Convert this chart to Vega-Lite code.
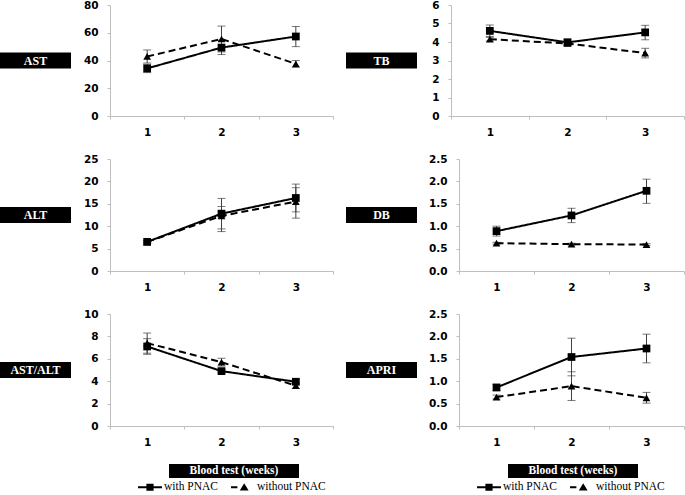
{
  "$schema": "https://vega.github.io/schema/vega-lite/v6.json",
  "padding": {"left": 0, "top": 0, "right": 0, "bottom": 0},
  "background": "white",
  "config": {
    "view": {"stroke": null},
    "axis": {"grid": false, "domainColor": "#bfbfbf", "tickColor": "#bfbfbf", "labelFont": "DejaVu Sans", "labelFontWeight": "bold", "labelFontSize": 10.5, "labelColor": "black", "tickSize": 3},
    "axisX": {"labelAngle": 0, "tickBand": "extent", "labelPadding": 8},
    "axisY": {"labelPadding": 9},
    "legend": {"layout": {"anchor": "middle", "bottom": {"anchor": "middle"}}}
  },
  "datasets": {
    "d": [
      {"panel": "AST", "series": "with PNAC", "week": 1, "value": 34.3, "lo": 31.3, "hi": 37.3},
      {"panel": "AST", "series": "with PNAC", "week": 2, "value": 49.3, "lo": 44.3, "hi": 54.3},
      {"panel": "AST", "series": "with PNAC", "week": 3, "value": 57.3, "lo": 50.0, "hi": 64.5},
      {"panel": "AST", "series": "without PNAC", "week": 1, "value": 42.9, "lo": 38.2, "hi": 47.6},
      {"panel": "AST", "series": "without PNAC", "week": 2, "value": 55.5, "lo": 46.2, "hi": 64.8},
      {"panel": "AST", "series": "without PNAC", "week": 3, "value": 37.6, "lo": 35.2, "hi": 40.0},
      {"panel": "TB", "series": "with PNAC", "week": 1, "value": 4.6, "lo": 4.3, "hi": 4.92},
      {"panel": "TB", "series": "with PNAC", "week": 2, "value": 3.98, "lo": 3.8, "hi": 4.16},
      {"panel": "TB", "series": "with PNAC", "week": 3, "value": 4.52, "lo": 4.12, "hi": 4.9},
      {"panel": "TB", "series": "without PNAC", "week": 1, "value": 4.15, "lo": 4.05, "hi": 4.25},
      {"panel": "TB", "series": "without PNAC", "week": 2, "value": 3.92, "lo": 3.8, "hi": 4.04},
      {"panel": "TB", "series": "without PNAC", "week": 3, "value": 3.4, "lo": 3.14, "hi": 3.66},
      {"panel": "ALT", "series": "with PNAC", "week": 1, "value": 6.5, "lo": 6.2, "hi": 6.8},
      {"panel": "ALT", "series": "with PNAC", "week": 2, "value": 12.8, "lo": 9.4, "hi": 16.2},
      {"panel": "ALT", "series": "with PNAC", "week": 3, "value": 16.3, "lo": 13.2, "hi": 19.4},
      {"panel": "ALT", "series": "without PNAC", "week": 1, "value": 6.5, "lo": 6.3, "hi": 6.7},
      {"panel": "ALT", "series": "without PNAC", "week": 2, "value": 12.3, "lo": 8.8, "hi": 14.4},
      {"panel": "ALT", "series": "without PNAC", "week": 3, "value": 15.5, "lo": 11.8, "hi": 18.6},
      {"panel": "DB", "series": "with PNAC", "week": 1, "value": 0.89, "lo": 0.78, "hi": 1.0},
      {"panel": "DB", "series": "with PNAC", "week": 2, "value": 1.24, "lo": 1.08, "hi": 1.4},
      {"panel": "DB", "series": "with PNAC", "week": 3, "value": 1.79, "lo": 1.51, "hi": 2.05},
      {"panel": "DB", "series": "without PNAC", "week": 1, "value": 0.62, "lo": 0.6, "hi": 0.64},
      {"panel": "DB", "series": "without PNAC", "week": 2, "value": 0.6, "lo": 0.58, "hi": 0.62},
      {"panel": "DB", "series": "without PNAC", "week": 3, "value": 0.59, "lo": 0.57, "hi": 0.61},
      {"panel": "AST/ALT", "series": "with PNAC", "week": 1, "value": 7.1, "lo": 6.4, "hi": 7.8},
      {"panel": "AST/ALT", "series": "with PNAC", "week": 2, "value": 4.9, "lo": 4.75, "hi": 5.05},
      {"panel": "AST/ALT", "series": "with PNAC", "week": 3, "value": 3.95, "lo": 3.75, "hi": 4.15},
      {"panel": "AST/ALT", "series": "without PNAC", "week": 1, "value": 7.4, "lo": 6.5, "hi": 8.3},
      {"panel": "AST/ALT", "series": "without PNAC", "week": 2, "value": 5.7, "lo": 5.35, "hi": 6.05},
      {"panel": "AST/ALT", "series": "without PNAC", "week": 3, "value": 3.6, "lo": 3.35, "hi": 3.85},
      {"panel": "APRI", "series": "with PNAC", "week": 1, "value": 0.86, "lo": 0.79, "hi": 0.93},
      {"panel": "APRI", "series": "with PNAC", "week": 2, "value": 1.54, "lo": 1.12, "hi": 1.96},
      {"panel": "APRI", "series": "with PNAC", "week": 3, "value": 1.73, "lo": 1.41, "hi": 2.05},
      {"panel": "APRI", "series": "without PNAC", "week": 1, "value": 0.645, "lo": 0.6, "hi": 0.69},
      {"panel": "APRI", "series": "without PNAC", "week": 2, "value": 0.89, "lo": 0.57, "hi": 1.21},
      {"panel": "APRI", "series": "without PNAC", "week": 3, "value": 0.63, "lo": 0.51, "hi": 0.75}
    ],
    "lg": [{"series": "with PNAC"}, {"series": "without PNAC"}]
  },
  "spacing": 16,
  "resolve": {"scale": {"shape": "independent", "strokeDash": "independent"}, "legend": {"shape": "independent", "strokeDash": "independent"}},
  "vconcat": [
    {
      "hconcat": [
        {
          "hconcat": [
            {"width": 71, "height": 16, "view": {"fill": "black", "stroke": null}, "data": {"values": [{"label": "AST"}]}, "mark": {"type": "text", "color": "white", "font": "Liberation Serif", "fontWeight": "bold", "fontSize": 12}, "encoding": {"text": {"field": "label"}}},
            {
              "width": 223, "height": 111,
              "data": {"name": "d"},
              "transform": [{"filter": "datum.panel === 'AST'"}],
              "encoding": {"x": {"field": "week", "type": "ordinal", "title": null, "scale": {"paddingInner": 0, "paddingOuter": 0}}},
              "layer": [
                {"mark": {"type": "errorbar", "color": "#404040", "thickness": 1, "ticks": {"size": 8, "thickness": 1}}, "encoding": {"y": {"field": "lo", "type": "quantitative", "title": null, "scale": {"domain": [0, 80]}, "axis": {"values": [0, 20, 40, 60, 80], "format": "d"}}, "y2": {"field": "hi"}}},
                {"mark": {"type": "line", "color": "black", "strokeWidth": 2}, "encoding": {"y": {"field": "value", "type": "quantitative", "title": null, "scale": {"domain": [0, 80]}, "axis": {"values": [0, 20, 40, 60, 80], "format": "d"}}, "strokeDash": {"field": "series", "type": "nominal", "scale": {"domain": ["with PNAC", "without PNAC"], "range": [[1, 0], [7, 4]]}, "legend": null}}},
                {"mark": {"type": "point", "filled": true, "color": "black", "opacity": 1, "size": 60}, "encoding": {"y": {"field": "value", "type": "quantitative", "title": null, "scale": {"domain": [0, 80]}, "axis": {"values": [0, 20, 40, 60, 80], "format": "d"}}, "shape": {"field": "series", "type": "nominal", "scale": {"domain": ["with PNAC", "without PNAC"], "range": ["square", "triangle-up"]}, "legend": null}}}
              ]
            }
          ],
          "spacing": 39, "bounds": "flush", "center": true
        },
        {
          "hconcat": [
            {"width": 71, "height": 16, "view": {"fill": "black", "stroke": null}, "data": {"values": [{"label": "TB"}]}, "mark": {"type": "text", "color": "white", "font": "Liberation Serif", "fontWeight": "bold", "fontSize": 12}, "encoding": {"text": {"field": "label"}}},
            {
              "width": 233, "height": 111,
              "data": {"name": "d"},
              "transform": [{"filter": "datum.panel === 'TB'"}],
              "encoding": {"x": {"field": "week", "type": "ordinal", "title": null, "scale": {"paddingInner": 0, "paddingOuter": 0}}},
              "layer": [
                {"mark": {"type": "errorbar", "color": "#404040", "thickness": 1, "ticks": {"size": 8, "thickness": 1}}, "encoding": {"y": {"field": "lo", "type": "quantitative", "title": null, "scale": {"domain": [0, 6]}, "axis": {"values": [0, 1, 2, 3, 4, 5, 6], "format": "d"}}, "y2": {"field": "hi"}}},
                {"mark": {"type": "line", "color": "black", "strokeWidth": 2}, "encoding": {"y": {"field": "value", "type": "quantitative", "title": null, "scale": {"domain": [0, 6]}, "axis": {"values": [0, 1, 2, 3, 4, 5, 6], "format": "d"}}, "strokeDash": {"field": "series", "type": "nominal", "scale": {"domain": ["with PNAC", "without PNAC"], "range": [[1, 0], [7, 4]]}, "legend": null}}},
                {"mark": {"type": "point", "filled": true, "color": "black", "opacity": 1, "size": 60}, "encoding": {"y": {"field": "value", "type": "quantitative", "title": null, "scale": {"domain": [0, 6]}, "axis": {"values": [0, 1, 2, 3, 4, 5, 6], "format": "d"}}, "shape": {"field": "series", "type": "nominal", "scale": {"domain": ["with PNAC", "without PNAC"], "range": ["square", "triangle-up"]}, "legend": null}}}
              ]
            }
          ],
          "spacing": 34, "bounds": "flush", "center": true
        }
      ],
      "spacing": 12
    },
    {
      "hconcat": [
        {
          "hconcat": [
            {"width": 71, "height": 16, "view": {"fill": "black", "stroke": null}, "data": {"values": [{"label": "ALT"}]}, "mark": {"type": "text", "color": "white", "font": "Liberation Serif", "fontWeight": "bold", "fontSize": 12}, "encoding": {"text": {"field": "label"}}},
            {
              "width": 223, "height": 112,
              "data": {"name": "d"},
              "transform": [{"filter": "datum.panel === 'ALT'"}],
              "encoding": {"x": {"field": "week", "type": "ordinal", "title": null, "scale": {"paddingInner": 0, "paddingOuter": 0}}},
              "layer": [
                {"mark": {"type": "errorbar", "color": "#404040", "thickness": 1, "ticks": {"size": 8, "thickness": 1}}, "encoding": {"y": {"field": "lo", "type": "quantitative", "title": null, "scale": {"domain": [0, 25]}, "axis": {"values": [0, 5, 10, 15, 20, 25], "format": "d"}}, "y2": {"field": "hi"}}},
                {"mark": {"type": "line", "color": "black", "strokeWidth": 2}, "encoding": {"y": {"field": "value", "type": "quantitative", "title": null, "scale": {"domain": [0, 25]}, "axis": {"values": [0, 5, 10, 15, 20, 25], "format": "d"}}, "strokeDash": {"field": "series", "type": "nominal", "scale": {"domain": ["with PNAC", "without PNAC"], "range": [[1, 0], [7, 4]]}, "legend": null}}},
                {"mark": {"type": "point", "filled": true, "color": "black", "opacity": 1, "size": 60}, "encoding": {"y": {"field": "value", "type": "quantitative", "title": null, "scale": {"domain": [0, 25]}, "axis": {"values": [0, 5, 10, 15, 20, 25], "format": "d"}}, "shape": {"field": "series", "type": "nominal", "scale": {"domain": ["with PNAC", "without PNAC"], "range": ["square", "triangle-up"]}, "legend": null}}}
              ]
            }
          ],
          "spacing": 39, "bounds": "flush", "center": true
        },
        {
          "hconcat": [
            {"width": 71, "height": 16, "view": {"fill": "black", "stroke": null}, "data": {"values": [{"label": "DB"}]}, "mark": {"type": "text", "color": "white", "font": "Liberation Serif", "fontWeight": "bold", "fontSize": 12}, "encoding": {"text": {"field": "label"}}},
            {
              "width": 225, "height": 112,
              "data": {"name": "d"},
              "transform": [{"filter": "datum.panel === 'DB'"}],
              "encoding": {"x": {"field": "week", "type": "ordinal", "title": null, "scale": {"paddingInner": 0, "paddingOuter": 0}}},
              "layer": [
                {"mark": {"type": "errorbar", "color": "#404040", "thickness": 1, "ticks": {"size": 8, "thickness": 1}}, "encoding": {"y": {"field": "lo", "type": "quantitative", "title": null, "scale": {"domain": [0, 2.5]}, "axis": {"values": [0, 0.5, 1, 1.5, 2, 2.5], "format": ".1f"}}, "y2": {"field": "hi"}}},
                {"mark": {"type": "line", "color": "black", "strokeWidth": 2}, "encoding": {"y": {"field": "value", "type": "quantitative", "title": null, "scale": {"domain": [0, 2.5]}, "axis": {"values": [0, 0.5, 1, 1.5, 2, 2.5], "format": ".1f"}}, "strokeDash": {"field": "series", "type": "nominal", "scale": {"domain": ["with PNAC", "without PNAC"], "range": [[1, 0], [7, 4]]}, "legend": null}}},
                {"mark": {"type": "point", "filled": true, "color": "black", "opacity": 1, "size": 60}, "encoding": {"y": {"field": "value", "type": "quantitative", "title": null, "scale": {"domain": [0, 2.5]}, "axis": {"values": [0, 0.5, 1, 1.5, 2, 2.5], "format": ".1f"}}, "shape": {"field": "series", "type": "nominal", "scale": {"domain": ["with PNAC", "without PNAC"], "range": ["square", "triangle-up"]}, "legend": null}}}
              ]
            }
          ],
          "spacing": 42, "bounds": "flush", "center": true
        }
      ],
      "spacing": 12
    },
    {
      "hconcat": [
        {
          "hconcat": [
            {"width": 71, "height": 16, "view": {"fill": "black", "stroke": null}, "data": {"values": [{"label": "AST/ALT"}]}, "mark": {"type": "text", "color": "white", "font": "Liberation Serif", "fontWeight": "bold", "fontSize": 12}, "encoding": {"text": {"field": "label"}}},
            {
              "width": 223, "height": 112,
              "data": {"name": "d"},
              "transform": [{"filter": "datum.panel === 'AST/ALT'"}],
              "encoding": {"x": {"field": "week", "type": "ordinal", "title": null, "scale": {"paddingInner": 0, "paddingOuter": 0}}},
              "layer": [
                {"mark": {"type": "errorbar", "color": "#404040", "thickness": 1, "ticks": {"size": 8, "thickness": 1}}, "encoding": {"y": {"field": "lo", "type": "quantitative", "title": null, "scale": {"domain": [0, 10]}, "axis": {"values": [0, 2, 4, 6, 8, 10], "format": "d"}}, "y2": {"field": "hi"}}},
                {"mark": {"type": "line", "color": "black", "strokeWidth": 2}, "encoding": {"y": {"field": "value", "type": "quantitative", "title": null, "scale": {"domain": [0, 10]}, "axis": {"values": [0, 2, 4, 6, 8, 10], "format": "d"}}, "strokeDash": {"field": "series", "type": "nominal", "scale": {"domain": ["with PNAC", "without PNAC"], "range": [[1, 0], [7, 4]]}, "legend": null}}},
                {"mark": {"type": "point", "filled": true, "color": "black", "opacity": 1, "size": 60}, "encoding": {"y": {"field": "value", "type": "quantitative", "title": null, "scale": {"domain": [0, 10]}, "axis": {"values": [0, 2, 4, 6, 8, 10], "format": "d"}}, "shape": {"field": "series", "type": "nominal", "scale": {"domain": ["with PNAC", "without PNAC"], "range": ["square", "triangle-up"]}, "legend": null}}}
              ]
            }
          ],
          "spacing": 39, "bounds": "flush", "center": true
        },
        {
          "hconcat": [
            {"width": 71, "height": 16, "view": {"fill": "black", "stroke": null}, "data": {"values": [{"label": "APRI"}]}, "mark": {"type": "text", "color": "white", "font": "Liberation Serif", "fontWeight": "bold", "fontSize": 12}, "encoding": {"text": {"field": "label"}}},
            {
              "width": 225, "height": 112,
              "data": {"name": "d"},
              "transform": [{"filter": "datum.panel === 'APRI'"}],
              "encoding": {"x": {"field": "week", "type": "ordinal", "title": null, "scale": {"paddingInner": 0, "paddingOuter": 0}}},
              "layer": [
                {"mark": {"type": "errorbar", "color": "#404040", "thickness": 1, "ticks": {"size": 8, "thickness": 1}}, "encoding": {"y": {"field": "lo", "type": "quantitative", "title": null, "scale": {"domain": [0, 2.5]}, "axis": {"values": [0, 0.5, 1, 1.5, 2, 2.5], "format": ".1f"}}, "y2": {"field": "hi"}}},
                {"mark": {"type": "line", "color": "black", "strokeWidth": 2}, "encoding": {"y": {"field": "value", "type": "quantitative", "title": null, "scale": {"domain": [0, 2.5]}, "axis": {"values": [0, 0.5, 1, 1.5, 2, 2.5], "format": ".1f"}}, "strokeDash": {"field": "series", "type": "nominal", "scale": {"domain": ["with PNAC", "without PNAC"], "range": [[1, 0], [7, 4]]}, "legend": null}}},
                {"mark": {"type": "point", "filled": true, "color": "black", "opacity": 1, "size": 60}, "encoding": {"y": {"field": "value", "type": "quantitative", "title": null, "scale": {"domain": [0, 2.5]}, "axis": {"values": [0, 0.5, 1, 1.5, 2, 2.5], "format": ".1f"}}, "shape": {"field": "series", "type": "nominal", "scale": {"domain": ["with PNAC", "without PNAC"], "range": ["square", "triangle-up"]}, "legend": null}}}
              ]
            }
          ],
          "spacing": 42, "bounds": "flush", "center": true
        }
      ],
      "spacing": 12
    },
    {
      "hconcat": [
        {"width": 169, "height": 14, "data": {"values": []}, "mark": "point"},
        {
          "width": 130, "height": 14, "view": {"fill": "black", "stroke": null},
          "layer": [
            {"data": {"name": "lg"}, "mark": {"type": "point", "filled": true, "color": "black", "opacity": 0},
             "encoding": {"shape": {"field": "series", "type": "nominal", "scale": {"domain": ["with PNAC", "without PNAC"], "range": ["M-1.5,-0.12H1.5V0.12H-1.5ZM-0.45,-0.45H0.45V0.45H-0.45Z", "M-1.5,-0.12H-0.7V0.12H-1.5ZM0.15,-0.5L0.7,0.4H-0.4Z"]},
               "legend": {"orient": "bottom", "direction": "horizontal", "title": null, "symbolOpacity": 1, "symbolSize": 256, "symbolStrokeWidth": 0, "symbolFillColor": "black", "labelFont": "Liberation Serif", "labelFontSize": 11.5, "labelColor": "black", "labelOffset": 6, "columnPadding": 13, "offset": 1, "padding": 0}}}},
            {"data": {"values": [{"t": "Blood test (weeks)"}]}, "mark": {"type": "text", "color": "white", "font": "Liberation Serif", "fontWeight": "bold", "fontSize": 11.5}, "encoding": {"text": {"field": "t"}}}
          ]
        },
        {"width": 209, "height": 14, "data": {"values": []}, "mark": "point"},
        {
          "width": 130, "height": 14, "view": {"fill": "black", "stroke": null},
          "layer": [
            {"data": {"name": "lg"}, "mark": {"type": "point", "filled": true, "color": "black", "opacity": 0},
             "encoding": {"shape": {"field": "series", "type": "nominal", "scale": {"domain": ["with PNAC", "without PNAC"], "range": ["M-1.5,-0.12H1.5V0.12H-1.5ZM-0.45,-0.45H0.45V0.45H-0.45Z", "M-1.5,-0.12H-0.7V0.12H-1.5ZM0.15,-0.5L0.7,0.4H-0.4Z"]},
               "legend": {"orient": "bottom", "direction": "horizontal", "title": null, "symbolOpacity": 1, "symbolSize": 256, "symbolStrokeWidth": 0, "symbolFillColor": "black", "labelFont": "Liberation Serif", "labelFontSize": 11.5, "labelColor": "black", "labelOffset": 6, "columnPadding": 13, "offset": 1, "padding": 0}}}},
            {"data": {"values": [{"t": "Blood test (weeks)"}]}, "mark": {"type": "text", "color": "white", "font": "Liberation Serif", "fontWeight": "bold", "fontSize": 11.5}, "encoding": {"text": {"field": "t"}}}
          ]
        }
      ],
      "spacing": 0, "bounds": "flush",
      "resolve": {"scale": {"shape": "independent"}, "legend": {"shape": "independent"}}
    }
  ]
}
